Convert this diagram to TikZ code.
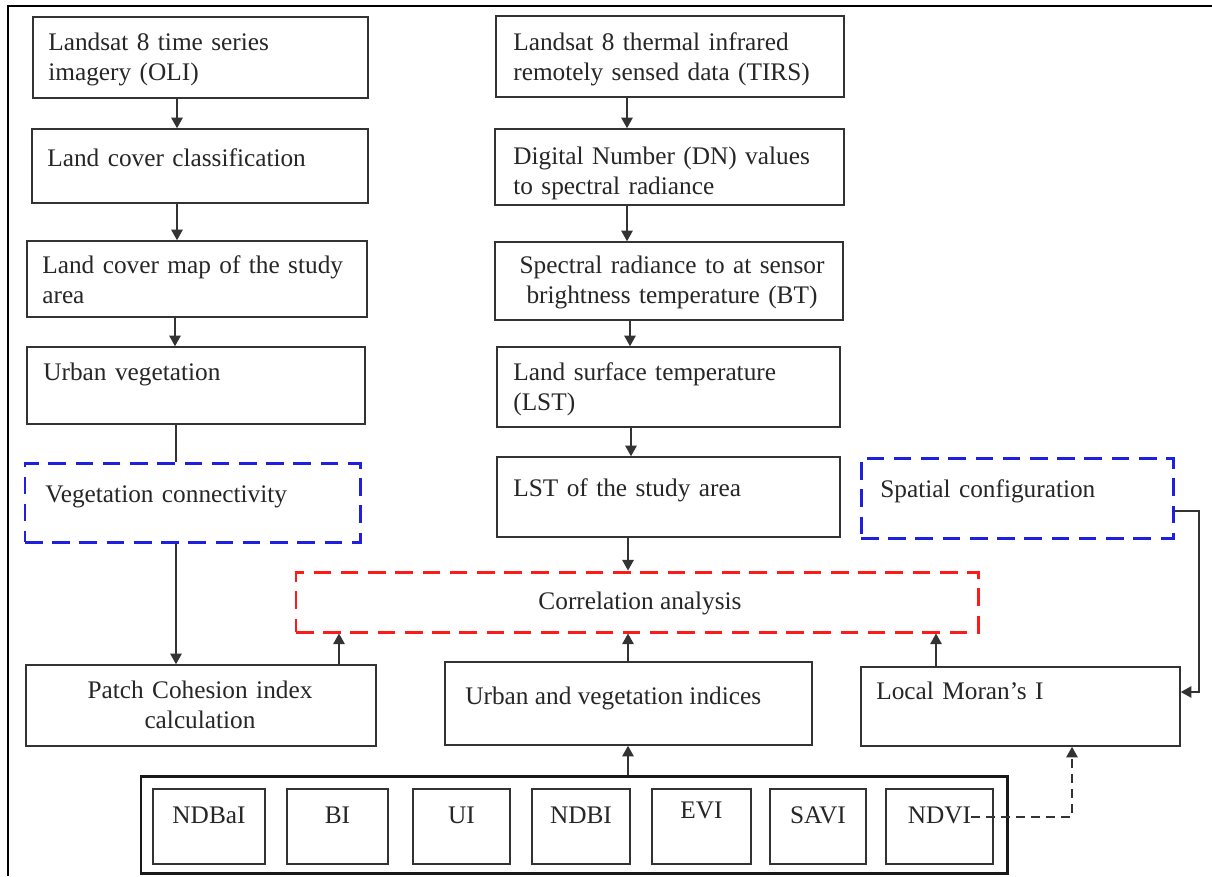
\documentclass[tikz,border=0pt]{standalone}
\usepackage{fontspec}
\setmainfont{Liberation Serif}
\usetikzlibrary{fit,arrows.meta,calc}
\definecolor{ink}{HTML}{333333}
\definecolor{dblue}{HTML}{1F1FE0}
\definecolor{dred}{HTML}{FF1A1A}
\begin{document}
\begin{tikzpicture}[x=0.02cm,y=-0.02cm,
  box/.style={draw=ink, line width=0.9pt, inner sep=0pt},
  bluebox/.style={draw=dblue, line width=1.7pt, dash pattern=on 10pt off 5.5pt, inner sep=0pt},
  redbox/.style={draw=dred, line width=1.7pt, dash pattern=on 10pt off 5.5pt, inner sep=0pt},
  idxframe/.style={draw=black!90, line width=1.7pt, inner sep=0pt},
  txt/.style={inner sep=0pt, font=\fontsize{14.4}{17.4}\selectfont, text=black!85},
  ltxt/.style={txt, anchor=base west, align=left, text width=6.8cm},
  ctxt/.style={txt, anchor=base, align=center, text width=6.8cm},
  arr/.style={draw=ink, line width=0.8pt, -{Triangle[length=6pt,width=6.5pt]}},
  ln/.style={draw=ink, line width=0.8pt},
  dln/.style={draw=ink, line width=0.8pt, dash pattern=on 5pt off 3.5pt, -{Triangle[length=6pt,width=6.5pt]}},
]
\useasboundingbox (0,0) rectangle (1212,876);
\fill[white] (0,0) rectangle (1212,876);
% outer page frame
\draw[line width=1.2pt, black] (8,876) -- (8,6) -- (1212,6);

% axes
\coordinate (axL) at (177,0);
\coordinate (axM) at (628,0);

% left column
\node[box, fit={(33,17) (368,98)}] (l1) {};
\node[ltxt] (tl1) at (48,50) {Landsat 8 time series\\imagery (OLI)};
\node[box, fit={(32,129) (368,203)}] (l2) {};
\node[ltxt] (tl2) at (47,166) {Land cover classification};
\node[box, fit={(27,241) (367,317)}] (l3) {};
\node[ltxt] (tl3) at (42,273) {Land cover map of the study\\area};
\node[box, fit={(27,347) (365,424)}] (l4) {};
\node[ltxt] (tl4) at (43,380) {Urban vegetation};
\node[bluebox, fit={(25,463) (360,542)}] (veg) {};
\node[ltxt] (tveg) at (45,502) {Vegetation connectivity};
\node[box, fit={(26,665) (376,746)}] (patch) {};
\node[ctxt] (tpatch) at (200,698) {Patch Cohesion index\\calculation};

% middle column
\node[box, fit={(496,16) (844,97)}] (m1) {};
\node[ltxt] (tm1) at (513,50) {Landsat 8 thermal infrared\\remotely sensed data (TIRS)};
\node[box, fit={(495,129) (844,205)}] (m2) {};
\node[ltxt] (tm2) at (513,164) {Digital Number (DN) values\\to spectral radiance};
\node[box, fit={(495,242) (843,320)}] (m3) {};
\node[ctxt] (tm3) at (672,273) {Spectral radiance to at sensor\\brightness temperature (BT)};
\node[box, fit={(497,347) (840,427)}] (m4) {};
\node[ltxt] (tm4) at (513,380) {Land surface temperature\\(LST)};
\node[box, fit={(497,457) (840,537)}] (m5) {};
\node[ltxt] (tm5) at (513,496) {LST of the study area};

% right column
\node[bluebox, fit={(861,458) (1173,538)}] (spat) {};
\node[ltxt] (tspat) at (880,497) {Spatial configuration};
\node[box, fit={(861,667) (1180,746)}] (moran) {};
\node[ltxt] (tmoran) at (876,699) {Local Moran's I};

% correlation
\node[redbox, fit={(296,572) (978,632)}] (corr) {};
\node[txt, anchor=base] (tcorr) at (640,609) {Correlation analysis};

% urban and vegetation indices
\node[box, fit={(445,662) (812,745)}] (urb) {};
\node[txt, anchor=base west] (turb) at (465,704) {Urban and vegetation indices};

% indices frame
\node[idxframe, fit={(141,776) (1007,873)}] (idx) {};
\foreach \nm/\xa/\xb/\lab/\yb in {b1/153/265/NDBaI/824, b2/287/388/BI/824, b3/413/510/UI/824, b4/532/630/NDBI/824, b5/652/751/EVI/819, b6/770/866/SAVI/824, b7/886/993/NDVI/824}{
  \node[box, fit={(\xa,789) (\xb,864)}] (\nm) {};
  \node[txt, anchor=base] (t\nm) at ($(\nm.north)+(0,\yb-789)$) {\lab};
}

% connectors left
\draw[arr] (l1.south -| axL) -- (l2.north -| axL);
\draw[arr] (l2.south -| axL) -- (l3.north -| axL);
\draw[arr] (l3.south -| 175,0) -- (l4.north -| 175,0);
\draw[ln] (l4.south -| 176,0) -- (veg.north -| 176,0);
\draw[arr] (veg.south -| 176,0) -- (patch.north -| 176,0);
\draw[arr] (patch.north -| 339,0) -- (corr.south -| 339,0);

% connectors middle
\draw[arr] (m1.south -| 627,0) -- (m2.north -| 627,0);
\draw[arr] (m2.south -| 627,0) -- (m3.north -| 627,0);
\draw[arr] (m3.south -| 630,0) -- (m4.north -| 630,0);
\draw[arr] (m4.south -| 631,0) -- (m5.north -| 631,0);
\draw[arr] (m5.south -| axM) -- (corr.north -| axM);
\draw[arr] (urb.north -| axM) -- (corr.south -| axM);
\draw[arr] (idx.north -| axM) -- (urb.south -| axM);

% connectors right
\draw[arr] (moran.north -| 936,0) -- (corr.south -| 936,0);
\coordinate (sp1) at (1199,511);
\draw[arr] (spat.east |- sp1) -- (sp1) -- (1199,692) -- (moran.east |- 0,692);
\coordinate (nd1) at (1072,817);
\draw[dln] (tb7.east |- nd1) -- (nd1) -- (moran.south -| nd1);
\end{tikzpicture}
\end{document}
